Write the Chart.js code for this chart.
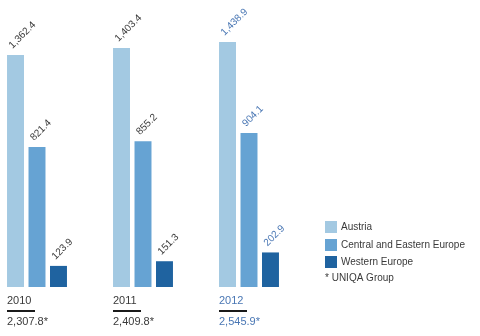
<!DOCTYPE html>
<html>
<head>
<meta charset="utf-8">
<style>
  html, body { margin: 0; padding: 0; background: #fff; }
  #wrap { width: 480px; height: 336px; position: relative; }
</style>
<script src="https://cdn.jsdelivr.net/npm/chart.js@4/dist/chart.umd.min.js"></script>
</head>
<body>
<div id="wrap"><canvas id="chart" width="480" height="336"></canvas></div>
<script>
var years = ["2010", "2011", "2012"];
var austria = [1362.4, 1403.4, 1438.9];
var centralEastern = [821.4, 855.2, 904.1];
var westernEurope = [123.9, 151.3, 202.9];
var groupTotals = ["2,307.8*", "2,409.8*", "2,545.9*"];
var seriesNames = ["Austria", "Central and Eastern Europe", "Western Europe"];
var footnote = "* UNIQA Group";

var colors = ["#a3c9e2", "#66a3d3", "#1f63a0"];
var darkText = "#3a3a3a";
var blueText = "#4a77b4";
var fontName = "'Liberation Sans', Arial, sans-serif";

function fmt(v) {
    return v.toLocaleString("en-US", { minimumFractionDigits: 1, maximumFractionDigits: 1 });
}

function textColor(i) {
    return i === years.length - 1 ? blueText : darkText;
}

var annotatePlugin = {
    id: "annotate",
    afterDatasetsDraw: function (chart) {
        var ctx = chart.ctx;
        var base = chart.chartArea.bottom;
        ctx.save();

        // rotated value labels
        ctx.font = "10px " + fontName;
        ctx.textAlign = "left";
        ctx.textBaseline = "alphabetic";
        chart.data.datasets.forEach(function (ds, di) {
            var meta = chart.getDatasetMeta(di);
            meta.data.forEach(function (bar, i) {
                ctx.save();
                ctx.fillStyle = textColor(i);
                ctx.translate(bar.x - 3, bar.y - 6);
                ctx.rotate(-Math.PI / 4);
                ctx.fillText(fmt(ds.data[i]), 0, 0);
                ctx.restore();
            });
        });

        // year labels, underline, totals
        var firstMeta = chart.getDatasetMeta(0);
        years.forEach(function (y, i) {
            var bar = firstMeta.data[i];
            var left = Math.round(bar.x - bar.width / 2);
            ctx.fillStyle = textColor(i);
            ctx.font = "11px " + fontName;
            ctx.textBaseline = "middle";
            ctx.fillText(y, left, base + 14);
            ctx.fillStyle = "#1a1a1a";
            ctx.fillRect(left, base + 23, 28, 2);
            ctx.fillStyle = textColor(i);
            ctx.fillText(groupTotals[i], left, base + 35);
        });

        // legend
        var lx = 325, ly = 221, step = 17.5;
        ctx.font = "10px " + fontName;
        ctx.textBaseline = "middle";
        seriesNames.forEach(function (name, i) {
            var y = Math.round(ly + i * step);
            ctx.fillStyle = colors[i];
            ctx.fillRect(lx, y, 12, 12);
            ctx.fillStyle = darkText;
            ctx.fillText(name, lx + 16, y + 6.5);
        });
        ctx.fillStyle = darkText;
        ctx.fillText(footnote, lx, ly + 3 * step + 5);

        ctx.restore();
    }
};

new Chart(document.getElementById("chart"), {
    type: "bar",
    data: {
        labels: years,
        datasets: [
            { label: seriesNames[0], data: austria, backgroundColor: colors[0], clip: false },
            { label: seriesNames[1], data: centralEastern, backgroundColor: colors[1], clip: false },
            { label: seriesNames[2], data: westernEurope, backgroundColor: colors[2], clip: false }
        ]
    },
    options: {
        responsive: false,
        animation: false,
        devicePixelRatio: 1,
        categoryPercentage: 0.608,
        barPercentage: 0.79,
        layout: { padding: { left: 37, right: 231, top: 0, bottom: 49 } },
        plugins: { legend: { display: false }, tooltip: { enabled: false } },
        scales: {
            x: { display: false, offset: false },
            y: { display: false, min: 0, max: 1685 }
        }
    },
    plugins: [annotatePlugin]
});
</script>
</body>
</html>
